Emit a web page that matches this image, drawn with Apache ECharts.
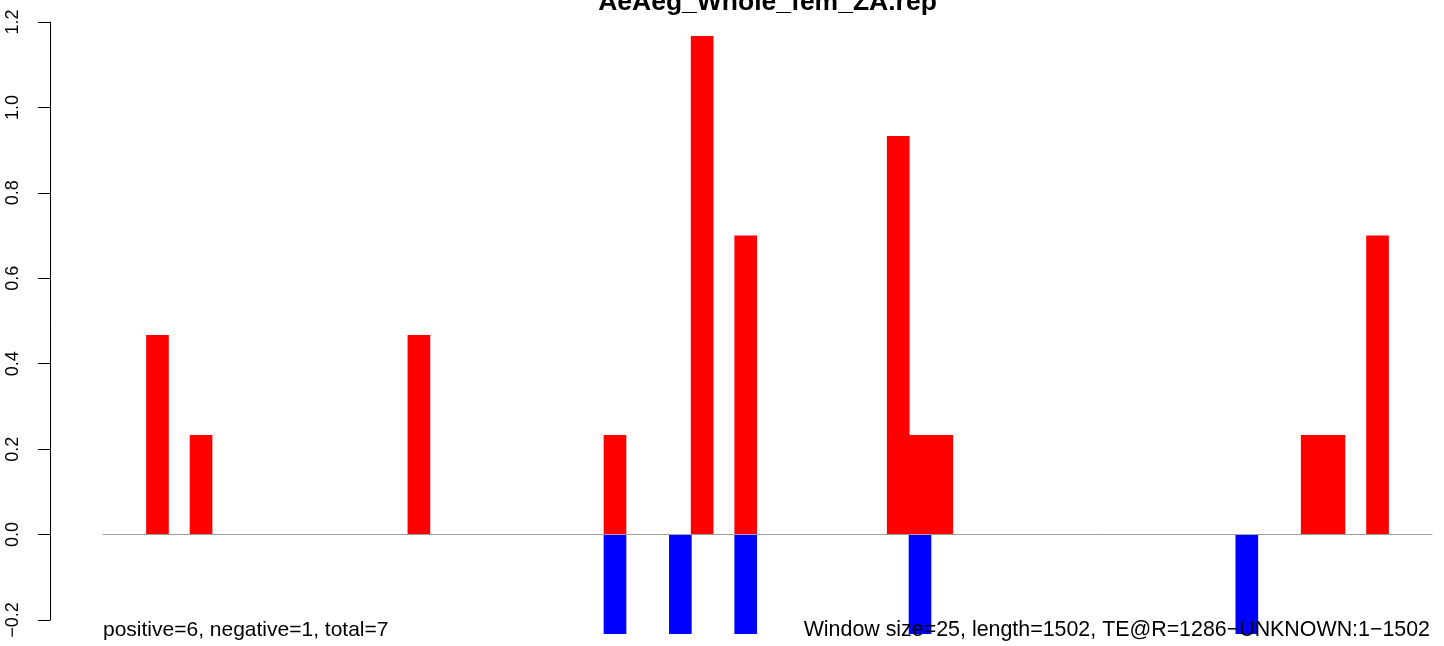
<!DOCTYPE html>
<html>
<head>
<meta charset="utf-8">
<script src="https://cdn.jsdelivr.net/npm/echarts@6/dist/echarts.min.js"></script>
<style>
html,body{margin:0;padding:0;background:#fff;}
#chart{width:1444px;height:646px;}
</style>
</head>
<body>
<div id="chart"></div>
<script>
const titleText = 'AeAeg_Whole_fem_ZA.rep';
const leftNote = 'positive=6, negative=1, total=7';
const rightNote = 'Window size=25, length=1502, TE@R=1286\u2212UNKNOWN:1\u22121502';
// 61 windows of 25 bp over length 1502
const categories = [];
for (let i = 1; i <= 61; i++) categories.push(String(i));
const positiveValues = [
  0,0,0.467,0,0.233,0,0,0,0,0,
  0,0,0,0,0.467,0,0,0,0,0,
  0,0,0,0.233,0,0,0,1.167,0,0.7,
  0,0,0,0,0,0,0.933,0.233,0.233,0,
  0,0,0,0,0,0,0,0,0,0,
  0,0,0,0,0,0.233,0.233,0,0.7,0,
  0
];
const negativeValues = [
  0,0,0,0,0,0,0,0,0,0,
  0,0,0,0,0,0,0,0,0,0,
  0,0,0,-0.233,0,0,-0.233,0,0,-0.233,
  0,0,0,0,0,0,0,-0.233,0,0,
  0,0,0,0,0,0,0,0,0,0,
  0,0,-0.233,0,0,0,0,0,0,0,
  0
];
const yTicks = [-0.2, 0.0, 0.2, 0.4, 0.6, 0.8, 1.0, 1.2];

const chart = echarts.init(document.getElementById('chart'), null, {renderer: 'canvas'});
const font = 'Liberation Sans, Arial, Helvetica, sans-serif';
chart.setOption({
  animation: false,
  backgroundColor: '#ffffff',
  grid: {left: 103, right: 12, top: 22, bottom: 26, containLabel: false},
  xAxis: {
    type: 'category',
    data: categories,
    boundaryGap: true,
    z: 3,
    axisLine: {show: true, onZero: true, lineStyle: {color: '#a0a0a0', width: 1}},
    axisTick: {show: false},
    axisLabel: {show: false},
    splitLine: {show: false}
  },
  yAxis: {
    type: 'value',
    min: yTicks[0],
    max: yTicks[yTicks.length - 1],
    interval: 0.2,
    offset: 53,
    axisLine: {show: true, lineStyle: {color: '#000', width: 1}},
    axisTick: {show: true, length: 12, lineStyle: {color: '#000', width: 1}},
    axisLabel: {
      rotate: 90,
      margin: 28,
      color: '#000',
      fontFamily: font,
      fontSize: 18,
      formatter: v => v.toFixed(1).replace('-', '\u2212')
    },
    splitLine: {show: false}
  },
  series: [
    {
      type: 'bar', name: 'positive', data: positiveValues,
      barWidth: '104%', barGap: '-100%', clip: false,
      itemStyle: {color: '#ff0000'}
    },
    {
      type: 'bar', name: 'negative', data: negativeValues,
      barWidth: '104%', barGap: '-100%', clip: false,
      itemStyle: {color: '#0000ff'}
    }
  ],
  graphic: [
    {type: 'text', silent: true, z: 10, x: 767.5, y: 3,
     style: {text: titleText, font: 'bold 26.5px ' + font, fill: '#000', align: 'center', verticalAlign: 'middle'}},
    {type: 'text', silent: true, z: 10, x: 103, y: 630,
     style: {text: leftNote, font: '21px ' + font, fill: '#000', align: 'left', verticalAlign: 'middle'}},
    {type: 'text', silent: true, z: 10, x: 1430, y: 630,
     style: {text: rightNote, font: '21.4px ' + font, fill: '#000', align: 'right', verticalAlign: 'middle'}}
  ]
});
</script>
</body>
</html>
